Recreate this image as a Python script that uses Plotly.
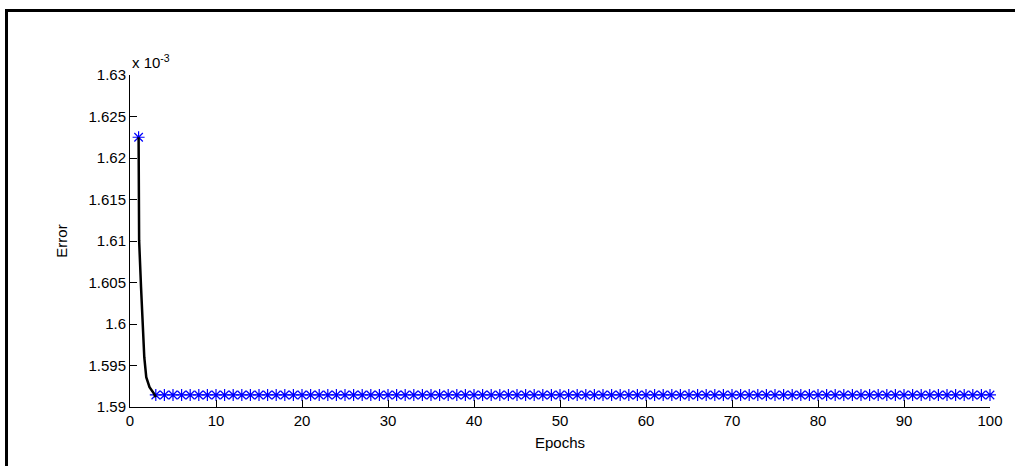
import plotly.graph_objects as go

# Error values in units of 1e-3
curve_epochs = [1.0, 1.0, 1.06, 1.28, 1.46, 1.66, 1.89, 2.27, 2.73, 3.0]
curve_error = [1.6225, 1.6150, 1.6101, 1.6045, 1.5996, 1.5960, 1.5936, 1.5924, 1.5917, 1.5912]

star_epochs = [1] + list(range(3, 101))
star_error = [1.6225] + [1.59145] * 98

y_ticks = [1.59, 1.595, 1.6, 1.605, 1.61, 1.615, 1.62, 1.625, 1.63]
y_ticktext = ["1.59", "1.595", "1.6", "1.605", "1.61", "1.615", "1.62", "1.625", "1.63"]
x_ticks = [0, 10, 20, 30, 40, 50, 60, 70, 80, 90, 100]

FONT = "Liberation Sans, Arial, sans-serif"

fig = go.Figure()
fig.add_trace(go.Scatter(
    x=star_epochs, y=star_error, mode="markers",
    marker=dict(symbol="asterisk-open", size=10, color="rgb(0,0,255)",
                line=dict(color="rgb(0,0,255)", width=1.2)),
    showlegend=False, cliponaxis=False))
fig.add_trace(go.Scatter(
    x=curve_epochs, y=curve_error, mode="lines",
    line=dict(color="black", width=2.5),
    showlegend=False))

L, R, T, B = 130, 18, 75, 59
W, H = 1015, 466
pw = W - L - R
ph = H - T - B

def px(xp):
    return (xp - L) / pw

def py(yp):
    return (H - B - yp) / ph

fig.update_layout(
    width=W, height=H,
    margin=dict(l=L, r=R, t=T, b=B),
    paper_bgcolor="white", plot_bgcolor="white",
    font=dict(family=FONT, size=15, color="black"),
    xaxis=dict(range=[0, 100], tickvals=x_ticks, showline=True, linecolor="black",
               linewidth=1, ticks="inside", ticklen=7, tickcolor="black",
               showgrid=False, zeroline=False, mirror=False,
               title=dict(text="Epochs", standoff=9, font=dict(size=15))),
    yaxis=dict(range=[1.59, 1.63], tickvals=y_ticks, ticktext=y_ticktext,
               showline=True, linecolor="black", linewidth=1, ticks="inside",
               ticklen=7, tickcolor="black", showgrid=False, zeroline=False,
               mirror=False,
               title=dict(text="Error", standoff=17, font=dict(size=15))),
    shapes=[dict(type="rect", xref="paper", yref="paper",
                 x0=px(5.5), x1=px(1030), y0=py(10.5), y1=py(480),
                 line=dict(color="black", width=3), fillcolor="rgba(0,0,0,0)")],
    annotations=[dict(text="x 10<sup>-3</sup>", xref="paper", yref="paper",
                      x=0, y=py(62), xanchor="left", yanchor="middle",
                      showarrow=False, font=dict(size=15, family=FONT))],
)

fig.write_html("out.html",
               config={"displayModeBar": False},
               post_script="document.body.style.margin='0';document.body.style.overflow='hidden';")
